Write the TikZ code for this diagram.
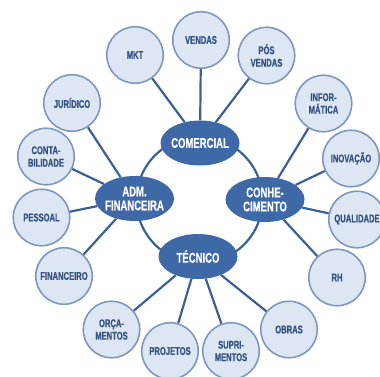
\documentclass[tikz,border=0pt]{standalone}
\usepackage{fontspec}
\newfontfamily\condfont[FakeStretch=0.68, FakeBold=0.6]{Liberation Sans Bold}
\usepackage{xcolor}
\usepackage{tikz}
\usetikzlibrary{shapes.geometric}

\definecolor{hubblue}{HTML}{3E68A6}
\definecolor{linkblue}{HTML}{3D5F95}
\definecolor{leaffill}{HTML}{DDE7F3}
\definecolor{leafline}{HTML}{7F97BC}
\definecolor{leaftext}{HTML}{35527F}

\begin{document}
\begin{tikzpicture}[x=1pt, y=-1pt,
  hub/.style={ellipse, fill=hubblue, text=white, minimum width=79pt, minimum height=45pt,
    inner sep=-8pt, align=center, font=\condfont\fontsize{14}{14}\selectfont},
  leaf/.style={circle, draw=leafline, line width=1.6pt, fill=leaffill, text=leaftext,
    minimum size=56.5pt, inner sep=0pt, align=center, font=\condfont\fontsize{11.2}{12.5}\selectfont},
  link/.style={draw=linkblue, line width=2.2pt}]

  \useasboundingbox (0,0) rectangle (380,376);

  % ring between the four areas
  \coordinate (Hub) at (199.5,200);
  \draw[link] (Hub) circle[radius=63];

  \node[hub] (Com) at (200,143)   {COMERCIAL};
  \node[hub] (Adm) at (134.5,198.5) {ADM.\\FINANCEIRA};
  \node[hub] (Con) at (265,199.5) {CONHE-\\CIMENTO};
  \node[hub] (Tec) at (198,256.5) {TÉCNICO};

  \node[leaf] (Mkt)    at (135,55)     {MKT};
  \node[leaf] (Vendas) at (201,40)     {VENDAS};
  \node[leaf] (Pos)    at (266.5,55.5) {PÓS\\VENDAS};

  \node[leaf] (Jur)     at (72,103)     {JURÍDICO};
  \node[leaf] (Conta)   at (46,156.5)   {CONTA-\\BILIDADE};
  \node[leaf] (Pessoal) at (41.5,217.5) {PESSOAL};
  \node[leaf] (Fin)     at (64,276)     {FINANCEIRO};

  \node[leaf] (Orc)   at (111.5,329.5) {ORÇA-\\MENTOS};
  \node[leaf] (Proj)  at (170,351)     {PROJETOS};
  \node[leaf] (Supri) at (231,351)     {SUPRI-\\MENTOS};
  \node[leaf] (Obras) at (289,329.5)   {OBRAS};

  \node[leaf] (Info) at (323.5,103.5) {INFOR-\\MÁTICA};
  \node[leaf] (Inov) at (351,158.5)   {INOVAÇÃO};
  \node[leaf] (Qual) at (357,219.5)   {QUALIDADE};
  \node[leaf] (Rh)   at (337,277.5)   {RH};

  \path[link]
    (Mkt) edge (Com)
    (Vendas) edge (Com)
    (Pos) edge (Com)

    (Jur) edge (Adm)
    (Conta) edge (Adm)
    (Pessoal) edge (Adm)
    (Fin) edge (Adm)

    (Orc) edge (Tec)
    (Proj) edge (Tec)
    (Supri) edge (Tec)
    (Obras) edge (Tec)

    (Info) edge (Con)
    (Inov) edge (Con)
    (Qual) edge (Con)
    (Rh) edge (Con);

\end{tikzpicture}
\end{document}
